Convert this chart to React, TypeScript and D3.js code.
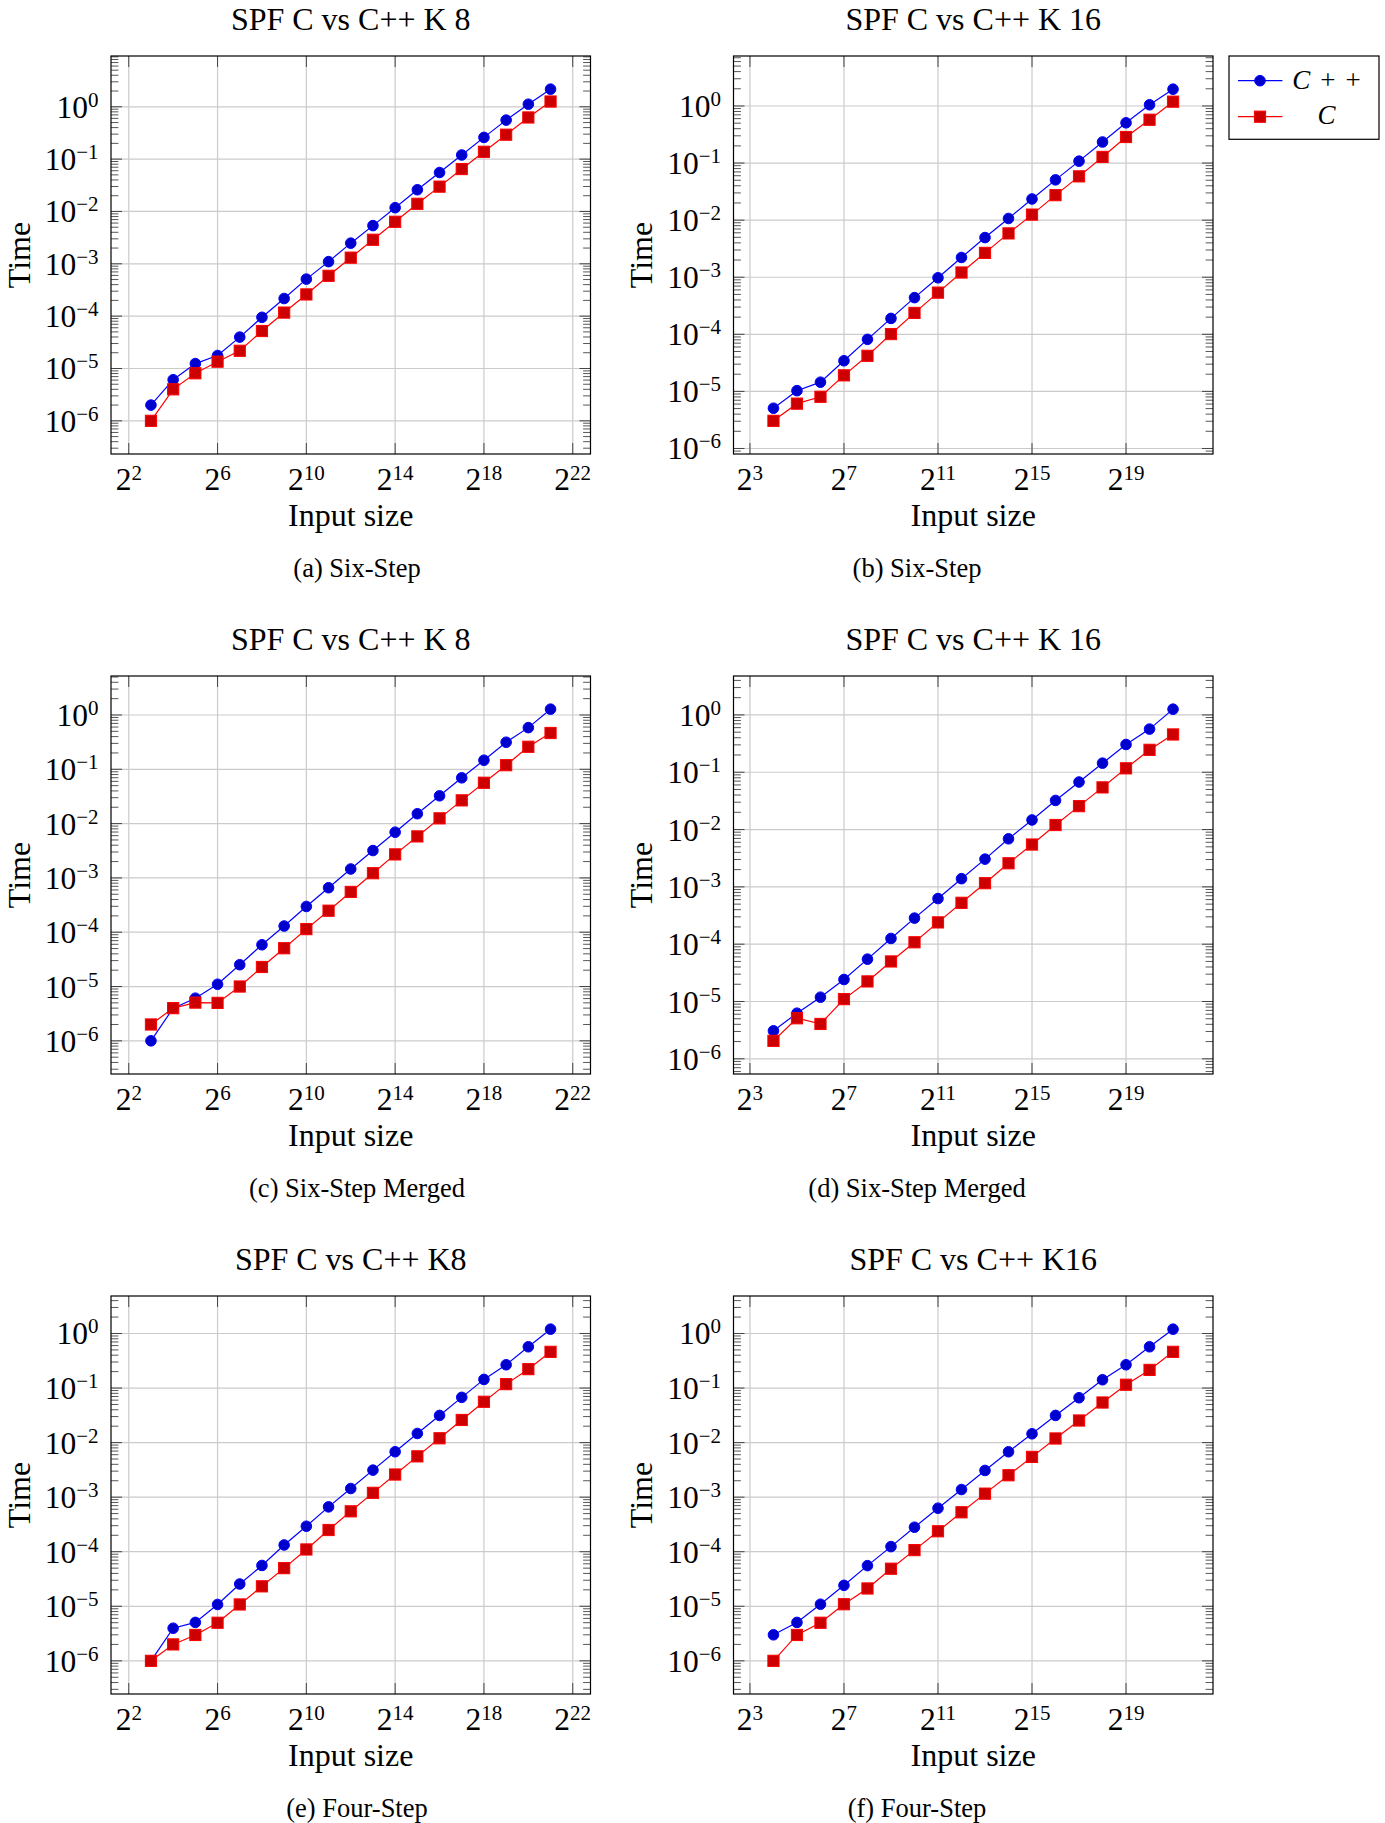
import React from 'react';
import * as d3 from 'd3';

// ---------- data ----------
const expsK8 = [3, 4, 5, 6, 7, 8, 9, 10, 11, 12, 13, 14, 15, 16, 17, 18, 19, 20, 21];
const expsK16 = [4, 5, 6, 7, 8, 9, 10, 11, 12, 13, 14, 15, 16, 17, 18, 19, 20, 21];
const xTicksK8 = [2, 6, 10, 14, 18, 22];
const xTicksK16 = [3, 7, 11, 15, 19];

const sixStepK8Cpp = [2.0e-6, 6.1e-6, 1.24e-5, 1.77e-5, 3.98e-5, 9.5e-5, 2.17e-4, 5.1e-4, 1.1e-3, 2.48e-3, 5.37e-3, 1.18e-2, 2.6e-2, 5.55e-2, 0.12, 0.26, 0.556, 1.12, 2.17];
const sixStepK8C = [1.0e-6, 4.0e-6, 8.1e-6, 1.35e-5, 2.18e-5, 5.2e-5, 1.17e-4, 2.6e-4, 5.9e-4, 1.31e-3, 2.88e-3, 6.35e-3, 1.4e-2, 2.98e-2, 6.46e-2, 0.138, 0.293, 0.625, 1.26];

const sixStepK16Cpp = [5.07e-6, 1.03e-5, 1.45e-5, 3.44e-5, 8.16e-5, 1.9e-4, 4.39e-4, 9.78e-4, 2.22e-3, 4.95e-3, 1.07e-2, 2.35e-2, 5.08e-2, 0.108, 0.234, 0.507, 1.05, 1.97];
const sixStepK16C = [3.05e-6, 6.1e-6, 8.05e-6, 1.91e-5, 4.2e-5, 1.01e-4, 2.37e-4, 5.37e-4, 1.21e-3, 2.67e-3, 5.86e-3, 1.25e-2, 2.74e-2, 5.85e-2, 0.128, 0.286, 0.574, 1.19];

const mergedK8Cpp = [1e-6, 4e-6, 6.1e-6, 1.1e-5, 2.52e-5, 5.87e-5, 1.3e-4, 2.98e-4, 6.6e-4, 1.46e-3, 3.19e-3, 6.95e-3, 1.52e-2, 3.25e-2, 6.97e-2, 0.147, 0.315, 0.585, 1.28];
const mergedK8C = [2e-6, 4e-6, 5.06e-6, 5e-6, 1e-5, 2.29e-5, 5.07e-5, 1.14e-4, 2.49e-4, 5.52e-4, 1.22e-3, 2.71e-3, 5.81e-3, 1.25e-2, 2.68e-2, 5.65e-2, 0.119, 0.26, 0.466];

const mergedK16Cpp = [3.08e-6, 6.25e-6, 1.19e-5, 2.42e-5, 5.48e-5, 1.26e-4, 2.85e-4, 6.25e-4, 1.39e-3, 3.05e-3, 6.9e-3, 1.47e-2, 3.22e-2, 6.75e-2, 0.144, 0.305, 0.566, 1.26];
const mergedK16C = [2.06e-6, 5.1e-6, 4.06e-6, 1.1e-5, 2.24e-5, 5e-5, 1.08e-4, 2.4e-4, 5.27e-4, 1.16e-3, 2.58e-3, 5.48e-3, 1.2e-2, 2.56e-2, 5.44e-2, 0.117, 0.246, 0.456];

const fourStepK8Cpp = [1e-6, 3.96e-6, 5.06e-6, 1.08e-5, 2.56e-5, 5.6e-5, 1.33e-4, 2.93e-4, 6.64e-4, 1.44e-3, 3.13e-3, 6.8e-3, 1.47e-2, 3.15e-2, 6.75e-2, 0.144, 0.267, 0.571, 1.2];
const fourStepK8C = [1e-6, 2e-6, 2.98e-6, 4.99e-6, 1.08e-5, 2.32e-5, 5e-5, 1.1e-4, 2.5e-4, 5.5e-4, 1.2e-3, 2.6e-3, 5.6e-3, 1.2e-2, 2.6e-2, 5.6e-2, 0.118, 0.222, 0.461];

const fourStepK16Cpp = [3e-6, 5.06e-6, 1.09e-5, 2.42e-5, 5.56e-5, 1.24e-4, 2.81e-4, 6.28e-4, 1.38e-3, 3.09e-3, 6.79e-3, 1.45e-2, 3.15e-2, 6.64e-2, 0.142, 0.267, 0.571, 1.2];
const fourStepK16C = [1e-6, 2.98e-6, 4.99e-6, 1.09e-5, 2.12e-5, 4.88e-5, 1.07e-4, 2.37e-4, 5.28e-4, 1.16e-3, 2.52e-3, 5.47e-3, 1.19e-2, 2.54e-2, 5.43e-2, 0.115, 0.215, 0.461];

const titles = ['SPF C vs C++ K 8', 'SPF C vs C++ K 16', 'SPF C vs C++ K 8', 'SPF C vs C++ K 16', 'SPF C vs C++ K8', 'SPF C vs C++ K16'];
const captions = ['(a) Six-Step', '(b) Six-Step', '(c) Six-Step Merged', '(d) Six-Step Merged', '(e) Four-Step', '(f) Four-Step'];
const legendLabels = ['C++', 'C'];

// ---------- layout ----------
const W = 1385;
const H = 1823;
const COL_X = [111, 733.5];
const ROW_Y = [56, 676, 1296];
const BOX_W = 479.5;
const BOX_H = 398;
const CAPTION_X = [357, 917];
const FONT = '"Liberation Serif", "Times New Roman", Times, serif';
const BLUE = '#0000ff';
const BLUE_FILL = '#0000cc';
const RED = '#ff0000';
const RED_FILL = '#cc0000';
const GRID = '#cbcbcb';
const TICK = '#444';

function supText(e: number) {
  return e < 0 ? '\u2212' + Math.abs(e) : String(e);
}

function Circle({ cx, cy }: { cx: number; cy: number }) {
  return <circle cx={cx} cy={cy} r={5.3} fill={BLUE_FILL} stroke={BLUE} strokeWidth={1} />;
}
function Square({ cx, cy }: { cx: number; cy: number }) {
  return <rect x={cx - 5.6} y={cy - 5.6} width={11.2} height={11.2} fill={RED_FILL} stroke={RED} strokeWidth={1} />;
}

type PanelProps = {
  left: number;
  top: number;
  title: string;
  caption: string;
  captionX: number;
  exps: number[];
  cpp: number[];
  c: number[];
  xTickExps: number[];
  legend?: boolean;
};

function Panel({ left, top, title, caption, captionX, exps, cpp, c, xTickExps, legend }: PanelProps) {
  const right = left + BOX_W;
  const bottom = top + BOX_H;
  const [xlo, xhi] = d3.extent(exps) as [number, number];
  const xpad = (xhi - xlo) * 0.1;
  const x = d3.scaleLog().base(2).domain([2 ** (xlo - xpad), 2 ** (xhi + xpad)]).range([left, right]);
  const logs = [...cpp, ...c].map((v) => Math.log10(v));
  const ylo = d3.min(logs) as number;
  const yhi = d3.max(logs) as number;
  const ypad = (yhi - ylo) * 0.1;
  const yDomLo = ylo - ypad;
  const yDomHi = yhi + ypad;
  const y = d3.scaleLog().domain([10 ** yDomLo, 10 ** yDomHi]).range([bottom, top]);

  const decades = d3.range(Math.ceil(yDomLo), Math.floor(yDomHi) + 1);
  const minors: number[] = [];
  for (let k = Math.floor(yDomLo); k <= Math.ceil(yDomHi); k++) {
    for (let m = 2; m <= 9; m++) {
      const lv = Math.log10(m) + k;
      if (lv > yDomLo && lv < yDomHi) minors.push(m * 10 ** k);
    }
  }

  const line = d3
    .line<number>()
    .x((_, i) => x(2 ** exps[i]))
    .y((d) => y(d));

  const cx = (left + right) / 2;
  const cy = (top + bottom) / 2;
  const MAJ = 11;
  const MIN = 7.4;

  return (
    <g>
      {/* grid */}
      {xTickExps.map((e) => (
        <line key={'gx' + e} x1={x(2 ** e)} x2={x(2 ** e)} y1={top} y2={bottom} stroke={GRID} strokeWidth={1.2} />
      ))}
      {decades.map((d) => (
        <line key={'gy' + d} x1={left} x2={right} y1={y(10 ** d)} y2={y(10 ** d)} stroke={GRID} strokeWidth={1.2} />
      ))}
      {/* ticks */}
      {xTickExps.map((e) => (
        <g key={'tx' + e}>
          <line x1={x(2 ** e)} x2={x(2 ** e)} y1={bottom} y2={bottom - MAJ} stroke={TICK} strokeWidth={1} />
          <line x1={x(2 ** e)} x2={x(2 ** e)} y1={top} y2={top + MAJ} stroke={TICK} strokeWidth={1} />
        </g>
      ))}
      {decades.map((d) => (
        <g key={'ty' + d}>
          <line x1={left} x2={left + MAJ} y1={y(10 ** d)} y2={y(10 ** d)} stroke={TICK} strokeWidth={1} />
          <line x1={right} x2={right - MAJ} y1={y(10 ** d)} y2={y(10 ** d)} stroke={TICK} strokeWidth={1} />
        </g>
      ))}
      {minors.map((v, i) => (
        <g key={'my' + i}>
          <line x1={left} x2={left + MIN} y1={y(v)} y2={y(v)} stroke={TICK} strokeWidth={0.9} />
          <line x1={right} x2={right - MIN} y1={y(v)} y2={y(v)} stroke={TICK} strokeWidth={0.9} />
        </g>
      ))}
      {/* series */}
      <path d={line(cpp) || ''} fill="none" stroke={BLUE} strokeWidth={1.2} />
      {cpp.map((v, i) => (
        <Circle key={'b' + i} cx={x(2 ** exps[i])} cy={y(v)} />
      ))}
      <path d={line(c) || ''} fill="none" stroke={RED} strokeWidth={1.2} />
      {c.map((v, i) => (
        <Square key={'r' + i} cx={x(2 ** exps[i])} cy={y(v)} />
      ))}
      {/* box */}
      <rect x={left} y={top} width={BOX_W} height={BOX_H} fill="none" stroke="#000" strokeWidth={1.2} />
      {/* tick labels */}
      {xTickExps.map((e) => (
        <text key={'lx' + e} x={x(2 ** e)} y={bottom + 36.4} textAnchor="middle" fontSize={31.5} fontFamily={FONT}>
          2<tspan dy={-10} fontSize={21}>{supText(e)}</tspan>
        </text>
      ))}
      {decades.map((d) => (
        <text key={'ly' + d} x={left - 12.5} y={y(10 ** d) + 11} textAnchor="end" fontSize={31.5} fontFamily={FONT}>
          10<tspan dy={-11} fontSize={21}>{supText(d)}</tspan>
        </text>
      ))}
      {/* labels */}
      <text x={cx} y={top - 26.2} textAnchor="middle" fontSize={32} fontFamily={FONT}>
        {title}
      </text>
      <text x={cx} y={bottom + 71.6} textAnchor="middle" fontSize={32} fontFamily={FONT}>
        Input size
      </text>
      <text
        transform={`translate(${left - 81.5},${cy}) rotate(-90)`}
        textAnchor="middle"
        fontSize={32}
        fontFamily={FONT}
      >
        Time
      </text>
      <text x={captionX} y={top + 521} textAnchor="middle" fontSize={26.5} fontFamily={FONT}>
        {caption}
      </text>
      {legend && <Legend left={right + 16} top={top} />}
    </g>
  );
}

function Legend({ left, top }: { left: number; top: number }) {
  const rows = [24.7, 60.7];
  const textX = left + 97.5;
  return (
    <g>
      <rect x={left} y={top} width={150} height={83.3} fill="#fff" stroke="#000" strokeWidth={1.2} />
      <line x1={left + 9} x2={left + 53.4} y1={top + rows[0]} y2={top + rows[0]} stroke={BLUE} strokeWidth={1.2} />
      <Circle cx={left + 31} cy={top + rows[0]} />
      <line x1={left + 9} x2={left + 53.4} y1={top + rows[1]} y2={top + rows[1]} stroke={RED} strokeWidth={1.2} />
      <Square cx={left + 31} cy={top + rows[1]} />
      <text x={textX} y={top + rows[0] + 7.8} textAnchor="middle" fontSize={27} fontFamily={FONT}>
        <tspan fontStyle="italic">{legendLabels[0].slice(0, 1)}</tspan>
        <tspan dx={10}>+</tspan>
        <tspan dx={10}>+</tspan>
      </text>
      <text x={textX} y={top + rows[1] + 7.5} textAnchor="middle" fontSize={27} fontFamily={FONT} fontStyle="italic">
        {legendLabels[1]}
      </text>
    </g>
  );
}

export default function App() {
  const panels = [
    { exps: expsK8, cpp: sixStepK8Cpp, c: sixStepK8C, ticks: xTicksK8 },
    { exps: expsK16, cpp: sixStepK16Cpp, c: sixStepK16C, ticks: xTicksK16 },
    { exps: expsK8, cpp: mergedK8Cpp, c: mergedK8C, ticks: xTicksK8 },
    { exps: expsK16, cpp: mergedK16Cpp, c: mergedK16C, ticks: xTicksK16 },
    { exps: expsK8, cpp: fourStepK8Cpp, c: fourStepK8C, ticks: xTicksK8 },
    { exps: expsK16, cpp: fourStepK16Cpp, c: fourStepK16C, ticks: xTicksK16 },
  ];
  return (
    <svg
      width={W}
      height={H}
      viewBox={`0 0 ${W} ${H}`}
      style={{ position: 'absolute', left: 0, top: 0, background: '#fff' }}
    >
      <rect x={0} y={0} width={W} height={H} fill="#fff" />
      {panels.map((p, i) => {
        const col = i % 2;
        const row = Math.floor(i / 2);
        return (
          <Panel
            key={i}
            left={COL_X[col]}
            top={ROW_Y[row]}
            title={titles[i]}
            caption={captions[i]}
            captionX={CAPTION_X[col]}
            exps={p.exps}
            cpp={p.cpp}
            c={p.c}
            xTickExps={p.ticks}
            legend={i === 1}
          />
        );
      })}
    </svg>
  );
}
